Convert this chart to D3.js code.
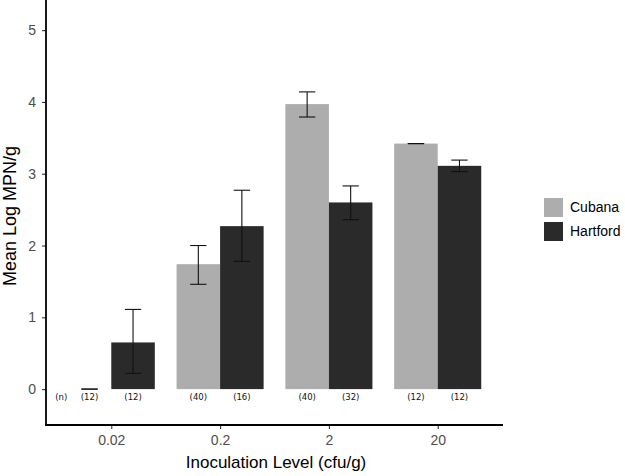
<!DOCTYPE html>
<html><head><meta charset="utf-8">
<script src="https://cdn.jsdelivr.net/npm/d3@7"></script>
<style>body{margin:0;background:#fff}svg{display:block}</style>
</head><body><svg id="c" width="625" height="476"></svg>
<script>
const levels = ["0.02", "0.2", "2", "20"];
const series = ["Cubana", "Hartford"];
const cubanaMean = [0, 1.74, 3.97, 3.42];
const cubanaLow  = [0, 1.46, 3.79, 3.42];
const cubanaHigh = [0, 2.00, 4.14, 3.42];
const hartMean = [0.65, 2.27, 2.60, 3.11];
const hartLow  = [0.22, 1.78, 2.36, 3.03];
const hartHigh = [1.11, 2.77, 2.83, 3.19];
const cubanaN = ["(12)", "(40)", "(40)", "(12)"];
const hartN   = ["(12)", "(16)", "(32)", "(12)"];
const yTicks = [0, 1, 2, 3, 4, 5];
const colors = {Cubana: "#adadad", Hartford: "#2a2a2a"};

const svg = d3.select("#c");
const L = 46, R = 503, T = 0, B = 425;
const x = d3.scalePoint().domain(levels).range([L, R]).padding(0.6);
const step = x.step();
const y = d3.scaleLinear().domain([-0.5, 5.42]).range([B, T]);
const bw = step * 0.4;
const capW = step * 0.15;
const font = "Liberation Sans, Arial, sans-serif";

const rows = [];
levels.forEach((lv, i) => {
  rows.push({lv, s: "Cubana", m: cubanaMean[i], lo: cubanaLow[i], hi: cubanaHigh[i], n: cubanaN[i], off: -0.5});
  rows.push({lv, s: "Hartford", m: hartMean[i], lo: hartLow[i], hi: hartHigh[i], n: hartN[i], off: 0.5});
});

const g = svg.append("g");
g.selectAll("rect.bar").data(rows).join("rect")
  .attr("x", d => x(d.lv) + d.off * bw - bw / 2)
  .attr("width", bw)
  .attr("y", d => y(Math.max(0, d.m)))
  .attr("height", d => Math.abs(y(0) - y(d.m)))
  .attr("fill", d => colors[d.s]);

const eb = g.selectAll("g.eb").data(rows).join("g")
  .attr("stroke", "#111").attr("stroke-width", 1.1).attr("fill", "none");
eb.append("line")
  .attr("x1", d => x(d.lv) + d.off * bw).attr("x2", d => x(d.lv) + d.off * bw)
  .attr("y1", d => y(d.lo)).attr("y2", d => y(d.hi));
eb.append("line")
  .attr("x1", d => x(d.lv) + d.off * bw - capW / 2).attr("x2", d => x(d.lv) + d.off * bw + capW / 2)
  .attr("y1", d => y(d.hi)).attr("y2", d => y(d.hi));
eb.append("line")
  .attr("x1", d => x(d.lv) + d.off * bw - capW / 2).attr("x2", d => x(d.lv) + d.off * bw + capW / 2)
  .attr("y1", d => y(d.lo)).attr("y2", d => y(d.lo));

// n labels
const nLabelY = y(-0.12);
g.selectAll("text.n").data(rows).join("text")
  .attr("x", d => x(d.lv) + d.off * bw)
  .attr("y", nLabelY)
  .attr("text-anchor", "middle").attr("dominant-baseline", "middle")
  .attr("font-family", "DejaVu Sans").attr("font-size", 8.5).attr("fill", "#111")
  .text(d => d.n);
g.append("text")
  .attr("x", x(levels[0]) - step * 0.46).attr("y", nLabelY)
  .attr("text-anchor", "middle").attr("dominant-baseline", "middle")
  .attr("font-family", "DejaVu Sans").attr("font-size", 8.5).attr("fill", "#111")
  .text("(n)");

// axes
const yAxis = svg.append("g").attr("transform", `translate(${L},0)`)
  .call(d3.axisLeft(y).tickValues(yTicks).tickSize(4).tickPadding(6).tickFormat(d3.format("d")));
const xAxis = svg.append("g").attr("transform", `translate(0,${B})`)
  .call(d3.axisBottom(x).tickSize(4).tickPadding(6));
[yAxis, xAxis].forEach(a => {
  a.select(".domain").remove();
  a.selectAll(".tick line").attr("stroke", "#333").attr("stroke-width", 1.1);
  a.selectAll(".tick text").attr("font-family", font)
    .attr("font-size", 14).attr("fill", "#4d4d4d");
});
svg.append("line").attr("x1", L).attr("x2", L).attr("y1", T).attr("y2", B + 0.9)
  .attr("stroke", "#000").attr("stroke-width", 1.8);
svg.append("line").attr("x1", L - 0.9).attr("x2", R).attr("y1", B).attr("y2", B)
  .attr("stroke", "#000").attr("stroke-width", 1.8);

// titles
svg.append("text").attr("x", 276).attr("y", 468).attr("text-anchor", "middle")
  .attr("font-family", font).attr("font-size", 17).attr("fill", "#000")
  .text("Inoculation Level (cfu/g)");
svg.append("text").attr("transform", `translate(16,216) rotate(-90)`).attr("text-anchor", "middle")
  .attr("font-family", font).attr("font-size", 18).attr("fill", "#000")
  .text("Mean Log MPN/g");

// legend
const lg = svg.append("g").attr("transform", "translate(544,198)");
series.forEach((s, i) => {
  lg.append("rect").attr("x", 0).attr("y", i * 24).attr("width", 19).attr("height", 19).attr("fill", colors[s]);
  lg.append("text").attr("x", 26).attr("y", i * 24 + 10).attr("dominant-baseline", "middle")
    .attr("font-family", font).attr("font-size", 14).attr("fill", "#000")
    .text(s);
});
</script></body></html>
